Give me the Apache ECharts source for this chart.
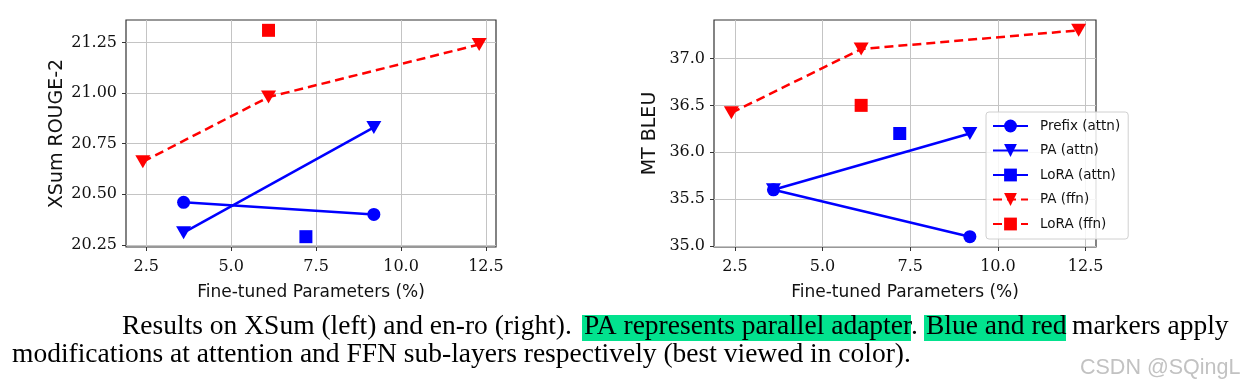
<!DOCTYPE html>
<html>
<head>
<meta charset="utf-8">
<script src="https://cdn.jsdelivr.net/npm/echarts@6/dist/echarts.min.js"></script>
<style>
  html, body { margin: 0; padding: 0; background: #fff; }
  #chart { width: 1245px; height: 387px; }
</style>
</head>
<body>
<div id="chart"></div>
<script>
// ---------- data ----------
const seriesNames = ['Prefix (attn)', 'PA (attn)', 'LoRA (attn)', 'PA (ffn)', 'LoRA (ffn)'];
const xTicks = [2.5, 5.0, 7.5, 10.0, 12.5];
const yTicksXsum = [20.25, 20.50, 20.75, 21.00, 21.25];
const yTicksBleu = [35.0, 35.5, 36.0, 36.5, 37.0];

// XSum (left)
const xsumPrefixAttn = [[3.6, 20.46], [9.2, 20.40]];
const xsumPaAttn     = [[3.6, 20.31], [9.2, 20.83]];
const xsumLoraAttn   = [[7.2, 20.29]];
const xsumPaFfn      = [[2.4, 20.66], [6.1, 20.98], [12.3, 21.24]];
const xsumLoraFfn    = [[6.1, 21.31]];

// en-ro BLEU (right)
const bleuPrefixAttn = [[3.6, 35.6], [9.2, 35.1]];
const bleuPaAttn     = [[3.6, 35.6], [9.2, 36.2]];
const bleuLoraAttn   = [[7.2, 36.2]];
const bleuPaFfn      = [[2.4, 36.42], [6.1, 37.1], [12.3, 37.3]];
const bleuLoraFfn    = [[6.1, 36.5]];

const xAxisTitle = 'Fine-tuned Parameters (%)';
const yTitleLeft = 'XSum ROUGE-2';
const yTitleRight = 'MT BLEU';
const captionLine1a = 'Results on XSum (left) and en-ro (right).';
const captionLine1b = 'PA represents parallel adapter';
const captionLine1c = '.';
const captionLine1d = 'Blue and red';
const captionLine1e = 'markers apply';
const captionLine2 = 'modifications at attention and FFN sub-layers respectively (best viewed in color).';
const watermark = 'CSDN @SQingL';

// ---------- styling helpers ----------
const BLUE = '#0000ff', RED = '#ff0000';
const tickFont = { fontFamily: 'DejaVu Serif', fontSize: 16, color: '#111' };
const titleFont = { fontFamily: 'DejaVu Sans', fontSize: 17, color: '#111' };
const yTitleFont = { fontFamily: 'DejaVu Sans', fontSize: 19, color: '#111' };

function extent(arrs, k) {
  let lo = Infinity, hi = -Infinity;
  arrs.forEach(a => a.forEach(p => { lo = Math.min(lo, p[k]); hi = Math.max(hi, p[k]); }));
  return [lo, hi];
}
const allLeft = [xsumPrefixAttn, xsumPaAttn, xsumLoraAttn, xsumPaFfn, xsumLoraFfn];
const allRight = [bleuPrefixAttn, bleuPaAttn, bleuLoraAttn, bleuPaFfn, bleuLoraFfn];
function padded(e) { const d = (e[1] - e[0]) * 0.05; return [e[0] - d, e[1] + d]; }
const xr = padded(extent(allLeft.concat(allRight), 0));
const yrL = padded(extent(allLeft, 1));
const yrR = padded(extent(allRight, 1));

function xAxis(gi) {
  return {
    type: 'value', gridIndex: gi, min: xr[0], max: xr[1],
    axisLine: { show: false },
    axisTick: { show: true, inside: false, length: 4, customValues: xTicks, lineStyle: { color: '#333', width: 1 } },
    axisLabel: Object.assign({ customValues: xTicks, margin: 12, formatter: v => v.toFixed(1) }, tickFont),
    splitLine: { show: true, lineStyle: { color: '#c4c4c4', width: 1 } },
    name: xAxisTitle, nameLocation: 'middle', nameGap: 37, nameTextStyle: titleFont
  };
}
function yAxis(gi, r, ticks, dec, name, gap) {
  return {
    type: 'value', gridIndex: gi, min: r[0], max: r[1],
    axisLine: { show: false },
    axisTick: { show: true, inside: false, length: 4, customValues: ticks, lineStyle: { color: '#333', width: 1 } },
    axisLabel: Object.assign({ customValues: ticks, margin: 9, formatter: v => v.toFixed(dec) }, tickFont),
    splitLine: { show: true, lineStyle: { color: '#c4c4c4', width: 1 } },
    name: name, nameLocation: 'middle', nameGap: gap, nameRotate: 90, nameTextStyle: yTitleFont
  };
}

const markerDefs = [
  { name: seriesNames[0], color: BLUE, symbol: 'circle', size: 13, rot: 0, dash: 'solid' },
  { name: seriesNames[1], color: BLUE, symbol: 'triangle', size: [15, 13], rot: 180, dash: 'solid' },
  { name: seriesNames[2], color: BLUE, symbol: 'rect', size: 13, rot: 0, dash: 'solid' },
  { name: seriesNames[3], color: RED, symbol: 'triangle', size: [15, 13], rot: 180, dash: [9, 5] },
  { name: seriesNames[4], color: RED, symbol: 'rect', size: 13, rot: 0, dash: [9, 5] }
];
function makeSeries(gi, datas) {
  return markerDefs.map((m, i) => ({
    type: 'line', name: m.name, xAxisIndex: gi, yAxisIndex: gi,
    data: datas[i], symbol: m.symbol, symbolSize: m.size, symbolRotate: m.rot,
    showAllSymbol: true, animation: false,
    lineStyle: { color: m.color, width: 2.5, type: m.dash },
    itemStyle: { color: m.color, borderWidth: 0 },
    emphasis: { disabled: true }
  }));
}

const captionFont = '27.5px "Liberation Serif"';
const option = {
  animation: false,
  backgroundColor: '#fff',
  grid: [
    { left: 126, top: 20, width: 370, height: 227, show: true, borderColor: '#333', borderWidth: 1.2, backgroundColor: '#fff', containLabel: false },
    { left: 714, top: 20, width: 382, height: 227, show: true, borderColor: '#333', borderWidth: 1.2, backgroundColor: '#fff', containLabel: false }
  ],
  xAxis: [xAxis(0), xAxis(1)],
  yAxis: [
    yAxis(0, yrL, yTicksXsum, 2, yTitleLeft, 59),
    yAxis(1, yrR, yTicksBleu, 1, yTitleRight, 54)
  ],
  legend: {
    data: seriesNames, orient: 'vertical', left: 986, top: 112,
    padding: [7, 8, 8, 6], itemWidth: 35, itemHeight: 16, itemGap: 10.5,
    backgroundColor: 'rgba(255,255,255,0.85)', borderColor: '#d0d0d0', borderWidth: 1, borderRadius: 3,
    textStyle: { fontFamily: 'DejaVu Sans', fontSize: 13.5, color: '#111', padding: [0, 0, 0, 7] },
    selectedMode: false
  },
  series: makeSeries(0, allLeft).concat(makeSeries(1, allRight)),
  graphic: [
    { type: 'rect', shape: { x: 582, y: 315, width: 329, height: 26 }, style: { fill: '#02e28e' }, z: 1 },
    { type: 'rect', shape: { x: 924, y: 315, width: 142, height: 26 }, style: { fill: '#02e28e' }, z: 1 },
    { type: 'text', x: 122, y: 327, z: 2, style: { text: captionLine1a, font: captionFont, fill: '#000', verticalAlign: 'middle' } },
    { type: 'text', x: 584, y: 327, z: 2, style: { text: captionLine1b, font: captionFont, fill: '#000', verticalAlign: 'middle' } },
    { type: 'text', x: 911, y: 327, z: 2, style: { text: captionLine1c, font: captionFont, fill: '#000', verticalAlign: 'middle' } },
    { type: 'text', x: 926, y: 327, z: 2, style: { text: captionLine1d, font: captionFont, fill: '#000', verticalAlign: 'middle' } },
    { type: 'text', x: 1072, y: 327, z: 2, style: { text: captionLine1e, font: captionFont, fill: '#000', verticalAlign: 'middle' } },
    { type: 'text', x: 12, y: 355, z: 2, style: { text: captionLine2, font: captionFont, fill: '#000', verticalAlign: 'middle' } },
    { type: 'text', x: 1080, y: 368, z: 2, style: { text: watermark, font: '21.5px "Liberation Sans"', fill: '#c2c2c2', verticalAlign: 'middle' } }
  ]
};

const chart = echarts.init(document.getElementById('chart'), null, { renderer: 'canvas' });
chart.setOption(option);
</script>
</body>
</html>
